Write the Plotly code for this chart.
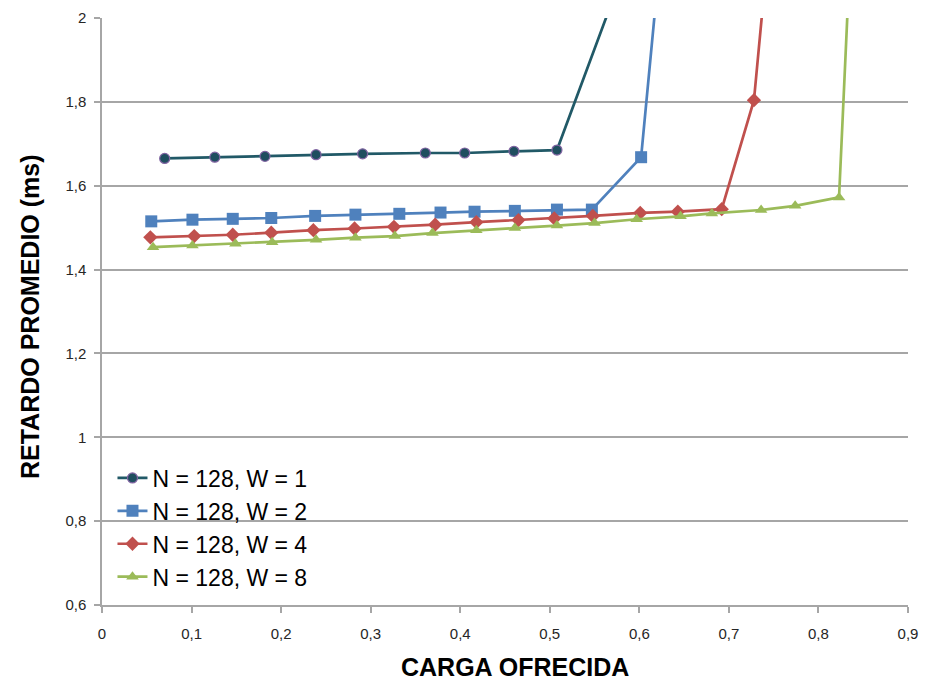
import plotly.graph_objects as go

# W = 1
x_w1 = [0.070, 0.126, 0.182, 0.239, 0.291, 0.361, 0.405, 0.460, 0.508, 0.600]
y_w1 = [1.665, 1.668, 1.670, 1.674, 1.676, 1.678, 1.678, 1.682, 1.685, 2.214]
# W = 2
x_w2 = [0.055, 0.101, 0.146, 0.189, 0.238, 0.283, 0.332, 0.378, 0.416, 0.461, 0.508, 0.547, 0.602, 0.650]
y_w2 = [1.515, 1.519, 1.521, 1.523, 1.528, 1.531, 1.533, 1.536, 1.538, 1.540, 1.543, 1.543, 1.668, 2.75]
# W = 4
x_w4 = [0.054, 0.103, 0.146, 0.189, 0.236, 0.282, 0.326, 0.372, 0.418, 0.465, 0.505, 0.548, 0.601, 0.643, 0.692, 0.728, 0.770]
y_w4 = [1.477, 1.480, 1.483, 1.488, 1.494, 1.498, 1.502, 1.507, 1.513, 1.518, 1.522, 1.528, 1.535, 1.538, 1.544, 1.804, 2.76]
# W = 8
x_w8 = [0.057, 0.101, 0.149, 0.190, 0.239, 0.283, 0.327, 0.369, 0.418, 0.461, 0.508, 0.550, 0.597, 0.646, 0.681, 0.736, 0.774, 0.823, 0.860]
y_w8 = [1.4535, 1.4576, 1.4618, 1.465, 1.471, 1.476, 1.480, 1.487, 1.494, 1.499, 1.505, 1.511, 1.520, 1.527, 1.534, 1.542, 1.552, 1.572, 3.30]

names = ["N = 128, W = 1", "N = 128, W = 2", "N = 128, W = 4", "N = 128, W = 8"]
x_ticks = [0, 0.1, 0.2, 0.3, 0.4, 0.5, 0.6, 0.7, 0.8, 0.9]
y_ticks = [0.6, 0.8, 1.0, 1.2, 1.4, 1.6, 1.8, 2.0]
x_title = "CARGA OFRECIDA"
y_title = "RETARDO PROMEDIO (ms)"

series = [
    (x_w1, y_w1, names[0], "#215967", dict(symbol="circle", size=10, color="#1F4E5F", line=dict(color="#8064A2", width=1.2))),
    (x_w2, y_w2, names[1], "#4F81BD", dict(symbol="square", size=12, color="#4F81BD", line=dict(width=0))),
    (x_w4, y_w4, names[2], "#C0504D", dict(symbol="diamond", size=11, color="#C0504D", line=dict(width=0))),
    (x_w8, y_w8, names[3], "#9BBB59", dict(symbol="triangle-up", size=11, color="#9BBB59", line=dict(width=0))),
]

fig = go.Figure()
for xs, ys, nm, col, mk in series:
    fig.add_trace(go.Scatter(x=xs, y=ys, name=nm, mode="lines+markers",
                             line=dict(color=col, width=2.7), marker=mk,
                             cliponaxis=True))

axis_common = dict(showline=True, linecolor="#A6A6A6", linewidth=1.5,
                   ticks="outside", ticklen=6, tickcolor="#A6A6A6", tickwidth=1.5,
                   zeroline=False, automargin=False,
                   tickfont=dict(family="Liberation Sans", size=15, color="#262626"))

title_font = dict(family="Liberation Sans", size=25, color="#000000", weight="bold")

fig.update_layout(
    width=926, height=680,
    margin=dict(l=102, r=18, t=18, b=75),
    paper_bgcolor="white", plot_bgcolor="white",
    separators=", ",
    showlegend=True,
    legend=dict(x=0.013, y=0.253, xanchor="left", yanchor="top",
                font=dict(family="Liberation Sans", size=23, color="#000000"),
                bgcolor="rgba(255,255,255,0)", itemwidth=30, tracegroupgap=0),
    xaxis=dict(range=[0, 0.9], tickvals=x_ticks, showgrid=False, ticklabelstandoff=8,
               **axis_common),
    yaxis=dict(range=[0.6, 2.0], tickvals=y_ticks, showgrid=True, gridcolor="#A6A6A6", gridwidth=1.5,
               ticklabelstandoff=5,
               **axis_common),
    annotations=[
        dict(text=x_title, xref="paper", yref="paper", x=0.512, y=-0.1056,
             xanchor="center", yanchor="middle", showarrow=False, font=title_font),
        dict(text=y_title, xref="paper", yref="paper", x=-0.0893, y=0.4906,
             xanchor="center", yanchor="middle", showarrow=False, textangle=-90, font=title_font),
    ],
)
fig.update_yaxes(tickformat=".1~f")
fig.update_xaxes(tickformat=".1~f")

fig.write_html("out.html")
